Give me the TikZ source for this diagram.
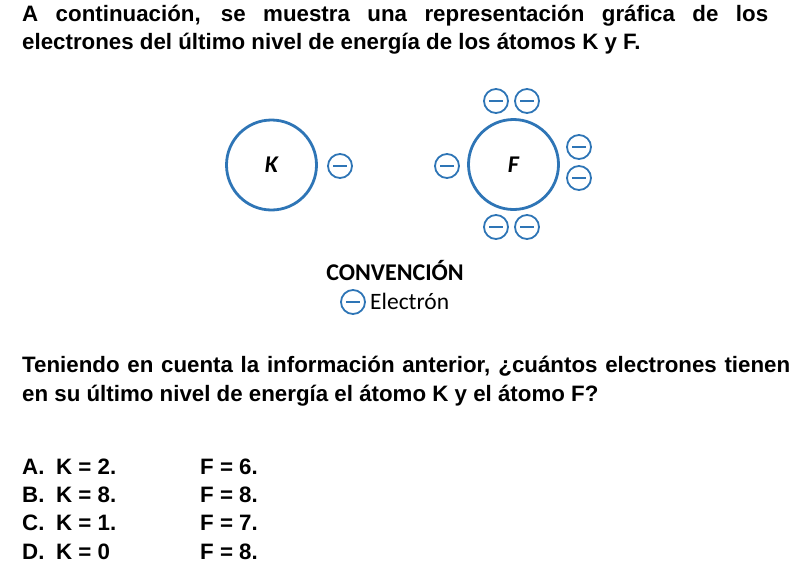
\documentclass[tikz,border=0pt]{standalone}
\usepackage{fontspec}
\newfontfamily\arialfont{Liberation Sans}
\newfontfamily\calfont{Carlito}
\definecolor{elecblue}{HTML}{2E75B6}
\begin{document}
\begin{tikzpicture}[x=1pt, y=-1pt,
  atom/.style={shape=circle, draw=elecblue, line width=2.8pt, minimum size=90pt, inner sep=0pt,
    font=\calfont\bfseries\itshape\fontsize{24}{26}\selectfont},
  electron/.style={shape=circle, draw=elecblue, line width=1.8pt, minimum size=24pt, inner sep=0pt,
    path picture={\draw[elecblue, line width=1.6pt] ([xshift=-7pt]path picture bounding box.center) -- ([xshift=7pt]path picture bounding box.center);}},
  txt/.style={anchor=base west, inner sep=0pt, font=\arialfont\bfseries\fontsize{22.3}{25}\selectfont}]
\useasboundingbox (0,0) rectangle (796,566);
% heading
\node[txt] (head1) at (22,21)
  {\makebox[746pt][s]{A continuación, se muestra una representación gráfica de los}};
\node[txt] (head2) at (22,49.5)
  {electrones del último nivel de energía de los átomos K y F.};
% atoms
\node[atom] (K) at (271.5,165) {K};
\node[atom] (F) at (513.5,164.5) {F};
\node[electron] (k1) at (340,166) {};
\node[electron] (f1) at (447,166) {};
\node[electron] (f2) at (496,101) {};
\node[electron] (f3) at (527,101) {};
\node[electron] (f4) at (579,147) {};
\node[electron] (f5) at (579,178) {};
\node[electron] (f6) at (496,227) {};
\node[electron] (f7) at (527,227) {};
% legend
\node[inner sep=0pt, font=\calfont\bfseries\fontsize{24}{26}\selectfont] (conv) at (395,270) {CONVENCIÓN};
\node[electron] (leg) at (353,302) {};
\node[txt, font=\calfont\fontsize{23.5}{25}\selectfont] (legtxt) at (370,309) {Electrón};
% question
\node[txt] (ques1) at (22,372)
  {\makebox[768pt][s]{Teniendo en cuenta la información anterior, ¿cuántos electrones tienen}};
\node[txt] (ques2) at (22,401)
  {en su último nivel de energía el átomo K y el átomo F?};
% options
\node[txt] (optA) at (22,474) {A.};
\node[txt] (optB) at (22,502) {B.};
\node[txt] (optC) at (22,530.5) {C.};
\node[txt] (optD) at (22,559) {D.};
\node[txt] (kA) at (56,474) {K = 2.};
\node[txt] (kB) at (56,502) {K = 8.};
\node[txt] (kC) at (56,530.5) {K = 1.};
\node[txt] (kD) at (56,559) {K = 0};
\node[txt] (fA) at (200,474) {F = 6.};
\node[txt] (fB) at (200,502) {F = 8.};
\node[txt] (fC) at (200,530.5) {F = 7.};
\node[txt] (fD) at (200,559) {F = 8.};
\end{tikzpicture}
\end{document}
